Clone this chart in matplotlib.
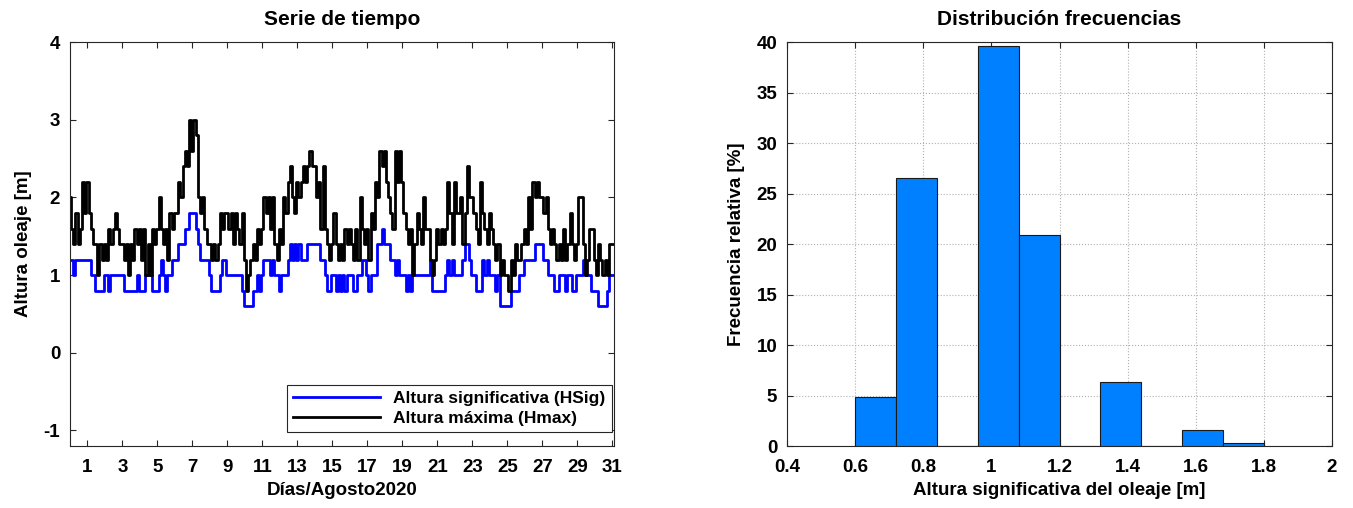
import numpy as np
import matplotlib.pyplot as plt

plt.rcParams["font.family"] = ["Liberation Sans", "DejaVu Sans"]
plt.rcParams["font.weight"] = "bold"
plt.rcParams["axes.labelweight"] = "bold"
plt.rcParams["axes.titleweight"] = "bold"
plt.rcParams["axes.unicode_minus"] = False

# alturas cada 3 horas, un string por dia; cada caracter (hex) = altura / 0.2 m
hsig_days = [
    "66566666", "66554444", "55455555", "54444445", "44455544", "45654556",
    "66777889", "99876666", "54444566", "55555554", "33334454", "56665655",
    "45556767", "67666777", "77766544", "55454545", "55445566", "54555778",
    "77766565", "55454555", "55555644", "44445656", "55556776", "55444656",
    "55545333", "33444455", "66666777", "76655544", "55545544", "55565554",
    "44333345", "555",
]
hmax_days = [
    "a87978b9", "b9877576", "76878987", "76757687", "86857587", "8a878698",
    "99bacdcf", "dfea9a87", "76767989", "98979879", "64567687", "8a9a8a76",
    "87a9bca9", "babcbcdc", "cab8c876", "79767687", "87686a87", "8698badc",
    "dba98dbd", "b9878579", "87a88656", "87878b97", "b99a79ca", "a987b987",
    "98767565", "54657667", "87a8baba", "a9a87876", "76867976", "7aa75688",
    "65765657", "777",
]
dias_ticks = list(range(1, 32, 2))

# histograma de HSig
bin_edges = [0.6, 0.72, 0.84, 0.96, 1.08, 1.2, 1.32, 1.44, 1.56, 1.68, 1.8]
hist_pct = [4.9, 26.5, 0, 39.6, 20.9, 0, 6.3, 0, 1.6, 0.3]


def decode(days):
    s = "".join(days)
    vals = np.array([int(c, 16) * 0.2 for c in s])
    t = np.arange(len(vals)) / 8
    return t, vals


def style_axes(ax):
    ax.tick_params(direction="in", length=4, width=0.8, top=True, right=True,
                   labelsize=13.5, colors="#262626")
    ax.tick_params(axis="x", pad=9)
    ax.tick_params(axis="y", pad=7)
    for sp in ax.spines.values():
        sp.set_color("#262626")
        sp.set_linewidth(0.8)
    for lab in ax.get_xticklabels() + ax.get_yticklabels():
        lab.set_fontweight("bold")
        lab.set_color("black")


fig = plt.figure(figsize=(13.53, 5.08), dpi=100)
ax1 = fig.add_axes([0.0517, 0.122, 0.4021, 0.795])
ax2 = fig.add_axes([0.5817, 0.122, 0.4028, 0.795])

t_s, hsig = decode(hsig_days)
t_m, hmax = decode(hmax_days)
ax1.plot(t_s, hsig, color="#0000ff", lw=2.0, drawstyle="steps-mid",
         label="Altura significativa (HSig)")
ax1.plot(t_m, hmax, color="black", lw=2.0, drawstyle="steps-mid",
         label="Altura máxima (Hmax)")
ax1.set_xlim(0, 31.1)
ax1.set_ylim(-1.2, 4)
ax1.set_xticks(dias_ticks)
ax1.set_yticks([-1, 0, 1, 2, 3, 4])
ax1.set_title("Serie de tiempo", fontsize=15, pad=12)
ax1.set_xlabel("Días/Agosto2020", fontsize=13.5, labelpad=5)
ax1.set_ylabel("Altura oleaje [m]", fontsize=13.5, labelpad=8)
style_axes(ax1)
leg = ax1.legend(loc="lower right", bbox_to_anchor=(0.996, 0.035),
                 fontsize=12.5, handlelength=5, fancybox=False,
                 framealpha=1, edgecolor="#262626", borderaxespad=0,
                 labelspacing=0.25, borderpad=0.35)
leg.get_frame().set_linewidth(0.8)

ax2.bar(bin_edges[:-1], hist_pct, width=np.diff(bin_edges), align="edge",
        color="#0080ff", edgecolor="#1a1a1a", linewidth=0.8, zorder=3)
ax2.set_xlim(0.4, 2)
ax2.set_ylim(0, 40)
ax2.set_xticks(np.arange(0.4, 2.01, 0.2))
ax2.set_xticklabels(["0.4", "0.6", "0.8", "1", "1.2", "1.4", "1.6", "1.8", "2"])
ax2.set_yticks(range(0, 41, 5))
ax2.grid(True, linestyle=":", color="#b0b0b0", linewidth=0.8, zorder=0)
ax2.set_axisbelow(True)
ax2.set_title("Distribución frecuencias", fontsize=15, pad=12)
ax2.set_xlabel("Altura significativa del oleaje [m]", fontsize=13.5, labelpad=5)
ax2.set_ylabel("Frecuencia relativa [%]", fontsize=13.5, labelpad=8)
style_axes(ax2)

fig.savefig("out.png", dpi=100)
